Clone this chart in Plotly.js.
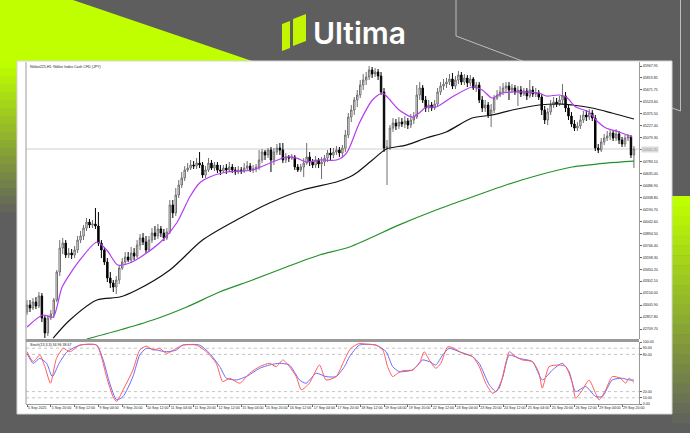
<!DOCTYPE html>
<html><head><meta charset="utf-8">
<script src="https://cdn.plot.ly/plotly-3.0.1.min.js"></script>
<style>html,body{margin:0;padding:0;background:#5e5e5e;overflow:hidden}#chart{width:690px;height:433px}</style>
</head><body><div id="chart"></div>
<script>
const chartTitle = "Nikkei225,H1: Nikkei Index Cash CFD (JPY)";
const stochTitle = "Stoch(13,3,3) 34.96 38.67";
const brandName = "Ultima";
const timeLabels = ["5 Sep 2025","5 Sep 20:00","8 Sep 12:00","9 Sep 04:00","9 Sep 20:00","10 Sep 12:00","11 Sep 04:00","11 Sep 20:00","12 Sep 12:00","15 Sep 04:00","15 Sep 20:00","16 Sep 12:00","17 Sep 04:00","17 Sep 20:00","18 Sep 12:00","19 Sep 04:00","19 Sep 20:00","22 Sep 12:00","23 Sep 04:00","23 Sep 20:00","24 Sep 12:00","25 Sep 04:00","25 Sep 20:00","26 Sep 12:00","29 Sep 04:00","29 Sep 20:00"];
const labelBars = [0,8,16,24,32,40,48,56,64,72,80,88,96,104,112,120,128,136,144,152,160,168,176,184,192,200];
const priceLabels = ["45967.95","45819.85","45671.75","45523.60","45375.50","45227.40","45079.30","44931.20","44783.10","44635.00","44486.90","44338.80","44190.70","44042.60","43894.50","43746.40","43598.30","43450.20","43302.10","43154.00","43005.90","42857.80","42709.70"];
const stochLabels = ["0.00","10.00","20.00","80.00","90.00","100.00"];
const stochLevels = [0,10,20,80,90,100];
const dottedLevels = [10,20,80,90];
const lastPriceText = "44940.35";

const openP = [42920,43007,42970,43044,42995,43119,42846,42660,42846,42896,
43069,43416,43713,43775,43627,43651,43627,43689,43812,43862,
43961,44035,43998,44011,43986,43775,43689,43540,43342,43280,
43230,43317,43465,43540,43602,43565,43651,43614,43750,43837,
43788,43689,43812,43899,43862,43949,43899,43837,43912,44246,
44147,44370,44494,44581,44680,44704,44742,44729,44766,44742,
44618,44680,44766,44704,44742,44680,44667,44704,44680,44717,
44680,44655,44680,44667,44704,44729,44680,44692,44717,44804,
44903,44866,44928,44804,44903,44952,44928,44804,44841,44828,
44841,44717,44680,44717,44766,44841,44779,44742,44804,44754,
44779,44828,44890,44866,44903,44928,44890,44952,45113,45336,
45423,45547,45609,45733,45795,45832,45919,45869,45894,45844,
45646,44952,44965,45200,45262,45225,45274,45250,45287,45237,
45299,45336,45609,45696,45547,45448,45485,45448,45497,45646,
45720,45745,45770,45807,45720,45795,45857,45770,45820,45758,
45807,45696,45733,45547,45448,45485,45361,45423,45572,45609,
45646,45696,45720,45671,45696,45646,45671,45621,45658,45597,
45671,45621,45634,45584,45423,45299,45398,45485,45522,45497,
45547,45597,45448,45349,45250,45200,45225,45299,45361,45336,
45386,45324,44952,44928,45027,45076,45101,45138,45076,45126,
45051,45002,45076,45089,44866];
const highP = [43069,43069,43094,43106,43168,43156,42883,42883,42945,43094,
43441,43812,43837,43812,43713,43701,43738,43862,43924,43998,
44085,44073,44060,44209,44159,43812,43726,43589,43416,43317,
43366,43503,43589,43664,43664,43726,43713,43812,43887,43899,
43862,43862,43961,43986,44011,43986,43949,43961,44308,44308,
44457,44556,44655,44729,44766,44804,44791,44828,44903,44779,
44729,44828,44804,44779,44779,44742,44742,44754,44779,44754,
44717,44729,44717,44766,44791,44766,44742,44754,44928,44940,
44928,44952,44965,44952,45002,45014,45014,44890,44866,44878,
44866,44754,44754,44828,45014,44903,44816,44853,44828,44841,
44866,44928,44952,44952,44977,44965,44989,45175,45386,45485,
45584,45671,45795,45869,45894,45968,45956,45943,45931,45894,
45696,45051,45237,45324,45312,45336,45324,45349,45324,45374,
45398,45733,45770,45733,45597,45547,45522,45547,45696,45770,
45807,45820,45869,45882,45844,45906,45894,45869,45857,45857,
45832,45770,45770,45597,45547,45522,45497,45609,45671,45720,
45758,45770,45770,45745,45733,45720,45720,45696,45696,45795,
45720,45696,45671,45621,45473,45448,45547,45584,45572,45597,
45745,45646,45497,45398,45299,45274,45361,45411,45423,45435,
45423,45361,45002,45076,45126,45163,45175,45175,45188,45163,
45089,45113,45126,45113,44977];
const lowP = [42883,42920,42945,42957,42970,42796,42598,42623,42821,42846,
43044,43366,43639,43589,43589,43577,43589,43651,43775,43812,
43924,43961,43961,43949,43738,43589,43503,43292,43218,43168,
43143,43267,43441,43503,43540,43527,43565,43589,43689,43750,
43651,43664,43775,43812,43825,43850,43800,43812,43887,44085,
44110,44333,44457,44543,44655,44680,44692,44692,44704,44581,
44581,44655,44680,44667,44643,44618,44643,44630,44655,44643,
44618,44630,44630,44643,44667,44655,44643,44655,44680,44766,
44804,44828,44655,44742,44866,44866,44766,44766,44779,44804,
44680,44655,44655,44593,44742,44729,44704,44704,44704,44568,
44729,44779,44804,44828,44866,44841,44828,44903,45076,45274,
45361,45460,45572,45671,45733,45795,45820,45832,45795,45609,
44903,44494,44928,45151,45175,45188,45212,45200,45188,45200,
45250,45312,45547,45510,45398,45398,45411,45423,45460,45609,
45671,45696,45733,45683,45683,45745,45733,45733,45708,45720,
45671,45646,45510,45398,45398,45324,45212,45386,45547,45584,
45609,45646,45547,45634,45609,45473,45584,45597,45547,45572,
45584,45584,45547,45361,45250,45237,45361,45448,45460,45473,
45497,45398,45299,45212,45163,45163,45188,45262,45287,45299,
45287,44915,44890,44903,44989,45039,45051,45039,45039,45002,
44965,44965,45039,44828,44704];
const closeP = [43007,42970,43044,42995,43119,42846,42660,42846,42896,43069,
43416,43713,43775,43627,43651,43627,43689,43812,43862,43961,
44035,43998,44011,43986,43775,43689,43540,43342,43280,43230,
43317,43465,43540,43602,43565,43651,43614,43750,43837,43788,
43689,43812,43899,43862,43949,43899,43837,43912,44246,44147,
44370,44494,44581,44680,44704,44742,44729,44766,44742,44618,
44680,44766,44704,44742,44680,44667,44704,44680,44717,44680,
44655,44680,44667,44704,44729,44680,44692,44717,44804,44903,
44866,44928,44804,44903,44952,44928,44804,44841,44828,44841,
44717,44680,44717,44766,44841,44779,44742,44804,44754,44779,
44828,44890,44866,44903,44928,44890,44952,45113,45336,45423,
45547,45609,45733,45795,45832,45919,45869,45894,45844,45646,
44952,44965,45200,45262,45225,45274,45250,45287,45237,45299,
45336,45609,45696,45547,45448,45485,45448,45497,45646,45720,
45745,45770,45807,45720,45795,45857,45770,45820,45758,45807,
45696,45733,45547,45448,45485,45361,45423,45572,45609,45646,
45696,45720,45671,45696,45646,45671,45621,45658,45597,45671,
45621,45634,45584,45423,45299,45398,45485,45522,45497,45547,
45597,45448,45349,45250,45200,45225,45299,45361,45336,45386,
45324,44952,44928,45027,45076,45101,45138,45076,45126,45051,
45002,45076,45089,44866,44940];

// moving averages (bar position, price)
const maFastBar = [0,5.3,8.8,11.8,17.8,23.5,26.8,30.5,34.5,40.2,45.6,50.3,54.7,58,61.4,67.1,75.8,82.5,87.2,90.6,93.9,98.3,104,107.4,111.7,116.1,119.4,121.1,125.1,129.5,131.8,134.2,137.5,142.9,149.6,153,156.3,159.7,163.1,167.8,172.1,174.5,178.8,181.2,184.5,188.9,191.2,194.6,199,203.4];
const maFastVal = [42734,42883,42858,43230,43565,43788,43689,43503,43527,43651,43812,44023,44345,44519,44593,44655,44680,44779,44841,44828,44779,44804,44804,44890,45262,45547,45634,45584,45423,45336,45386,45460,45460,45584,45708,45671,45572,45634,45646,45646,45634,45597,45609,45584,45460,45398,45299,45200,45151,45089];
const maMidBar = [8.8,14.4,23.5,31.2,36.9,48,59,70.4,81.5,92.6,104,108.4,110.7,116.1,120.8,127.5,134.2,140.9,149.6,156.3,163.1,172.1,179.8,183.2,189.9,196.6,204];
const maMidVal = [42598,42821,43069,43106,43193,43441,43812,44060,44271,44432,44531,44593,44643,44804,44940,44989,45076,45151,45324,45361,45423,45485,45497,45485,45448,45386,45312];
const maSlowBar = [20.1,31.2,42.3,53.7,64.7,75.8,87.2,98.3,108.4,125.1,137.5,149.6,161,172.1,183.2,194.6,204];
const maSlowVal = [42586,42697,42821,42983,43168,43317,43478,43627,43726,44000,44184,44345,44494,44618,44717,44766,44791];

// stochastic lines (bar position, value)
const stochMainBar = [0,2.1,4.3,6,7.9,9.9,12.2,14.4,17.8,23.4,25,26.7,28.9,30.1,32.3,35.6,37.9,40.1,42.4,44.6,46.9,50.2,52.4,56.9,60.3,63.6,65.8,68.1,71.5,74.8,78.2,81.5,83.8,86,88.2,90.5,92.2,94.9,98.3,100.5,103.9,106.7,108.4,109.5,111.7,114,117.3,119.6,121.2,122.9,124.6,126.3,129.6,131.9,133.5,135.2,137.4,139.1,141.4,143.6,146.4,149.8,152,154.2,156.5,158.7,160.9,162.1,164.3,166.5,169.9,172.1,173.2,175.5,178.8,181.1,183.3,184.4,186.7,188.9,191.1,192.3,194.5,196.7,199.5,201.2,202.3,204];
const stochMainVal = [84.3,68.3,79,60.3,33.5,73.6,89.7,84.3,95,95,76.3,44.2,12.1,4,22.8,54.9,87,93.4,87,89.7,81.6,89.7,95,95,84.3,65.6,36.2,41.5,33.5,49.6,60.3,65.6,60.3,71,60.3,44.2,22.8,33.5,62.9,38.8,44.2,71,87,92.3,97.7,96.6,95,87,60.3,44.2,49.6,53.8,54.9,65.6,84.3,71,57.6,65.6,92.3,89.7,81.6,76.3,60.3,33.5,17.4,25.5,65.6,84.3,76.3,71,68.3,49.6,25.5,60.3,62.9,60.3,33.5,9.4,22.8,38.8,17.4,6.7,22.8,44.2,41.5,33.5,41.5,35];
const stochSignalBar = [0,2.1,4.3,6.6,8.5,10.8,13.5,17.8,23.4,25.6,27.8,30.1,32.3,35.6,37.9,40.1,43.5,46.9,50.2,52.4,58,61.4,64.8,67,70.4,73.7,78.2,81.5,84.8,88.2,91.6,93.8,97.2,100.5,103.9,106.7,108.4,111.7,117.3,120.7,122.9,125.1,129.6,133,135.2,137.4,139.7,141.9,145.3,149.8,152,155.4,157.6,159.8,162.1,165.4,169.9,173.2,176.6,179.9,182.2,184.4,187.8,191.1,193.4,196.7,200.1,202.3,204];
const stochSignalVal = [81.6,65.6,73.6,65.6,44.2,65.6,84.3,95,95,71,33.5,6.7,12.1,44.2,79,89.7,87,84.3,87,95,95,81.6,60.3,41.5,38.8,44.2,57.6,62.9,65.6,62.9,38.8,33.5,49.6,44.2,44.2,60.3,76.3,95,95,84.3,60.3,52.2,54.9,71,68.3,62.9,79,89.7,84.3,76.3,65.6,30.8,20.1,41.5,79,73.6,68.3,38.8,54.9,65.6,52.2,20.1,28.2,12.1,12.1,38.8,41.5,38.8,38.7];

// ---------- page geometry helpers (page pixels -> paper fractions) ----------
const W = 690, H = 433;
const px = v => v / W;
const py = v => 1 - v / H;
const pathOf = pts => 'M' + pts.map(p => px(p[0]).toFixed(5) + ',' + py(p[1]).toFixed(5)).join(' L') + ' Z';

const barPos = openP.map((_, i) => i);
const lastClose = closeP[closeP.length - 1];

const plotL = 26, plotR = 639, mainTop = 62, mainBot = 339, stTop = 342, stBot = 404;

const traces = [
  {type:'candlestick', x:barPos, open:openP, high:highP, low:lowP, close:closeP,
   xaxis:'x', yaxis:'y', whiskerwidth:0, hoverinfo:'skip',
   increasing:{line:{color:'#6e6e6e', width:1}, fillcolor:'#ffffff'},
   decreasing:{line:{color:'#000000', width:1}, fillcolor:'#000000'}},
  {type:'scatter', mode:'lines', x:maSlowBar, y:maSlowVal, xaxis:'x', yaxis:'y',
   line:{color:'#23912a', width:1.2, shape:'spline', smoothing:0.8}, hoverinfo:'skip'},
  {type:'scatter', mode:'lines', x:maMidBar, y:maMidVal, xaxis:'x', yaxis:'y',
   line:{color:'#111111', width:1.2, shape:'spline', smoothing:0.8}, hoverinfo:'skip'},
  {type:'scatter', mode:'lines', x:maFastBar, y:maFastVal, xaxis:'x', yaxis:'y',
   line:{color:'#b63cf0', width:1.2, shape:'spline', smoothing:0.7}, hoverinfo:'skip'},
  {type:'scatter', mode:'lines', x:stochSignalBar, y:stochSignalVal, xaxis:'x2', yaxis:'y2',
   line:{color:'#6a6aff', width:1, shape:'spline', smoothing:0.6}, hoverinfo:'skip'},
  {type:'scatter', mode:'lines', x:stochMainBar, y:stochMainVal, xaxis:'x2', yaxis:'y2',
   line:{color:'#ff5c5c', width:1, shape:'spline', smoothing:0.6}, hoverinfo:'skip'}
];

const tinyFont = {family:'Liberation Sans, Arial, sans-serif', size:3.6, color:'#222'};

// lime gradients (decoration)
function gradStrip(xa, xb, top, bot, steps) {
  const out = [];
  for (let k = 0; k < steps; k++) {
    const t = k / (steps - 1);
    const r = Math.round(190 + (94 - 190) * t), g = Math.round(255 + (94 - 255) * t), b = Math.round(94 * t);
    const y0 = top + (bot - top) * k / steps, y1 = top + (bot - top) * (k + 1) / steps + 0.5;
    out.push({type:'rect', xref:'paper', yref:'paper', x0:px(xa), x1:px(xb), y0:py(y1), y1:py(y0),
      fillcolor:`rgb(${r},${g},${b})`, line:{width:0}, layer:'below'});
  }
  return out;
}

const shapes = [
  {type:'path', xref:'paper', yref:'paper', path:pathOf([[0,0],[73,0],[255,62],[0,62]]),
   fillcolor:'#bfff00', line:{width:0}, layer:'below'},
  ...gradStrip(0, 18, 60, 220, 20),
  ...gradStrip(672, 690, 196, 433, 24),
  {type:'path', xref:'paper', yref:'paper', path:'M'+px(456)+','+py(0)+' L'+px(456)+','+py(36)+' L'+px(525)+','+py(62),
   fillcolor:'rgba(0,0,0,0)', line:{color:'#bdbdbd', width:1}, layer:'below'},
  {type:'path', xref:'paper', yref:'paper', path:'M'+px(680.5)+','+py(0)+' L'+px(680.5)+','+py(111)+' L'+px(672)+','+py(108),
   fillcolor:'rgba(0,0,0,0)', line:{color:'#bdbdbd', width:1}, layer:'below'},
  {type:'path', xref:'paper', yref:'paper', path:pathOf([[282,24],[290,21],[290,48],[282,51]]),
   fillcolor:'#c3f400', line:{width:0}, layer:'below'},
  {type:'path', xref:'paper', yref:'paper', path:pathOf([[293,19],[306,14],[306,41],[293,46]]),
   fillcolor:'#c3f400', line:{width:0}, layer:'below'},
  {type:'rect', xref:'paper', yref:'paper', x0:px(17), x1:px(672), y0:py(414), y1:py(61),
   fillcolor:'#ffffff', line:{color:'#d6d6d6', width:1}, layer:'below'},
  {type:'line', xref:'paper', yref:'paper', x0:px(plotL), x1:px(plotL), y0:py(stBot), y1:py(mainTop),
   line:{color:'#9a9a9a', width:1}},
  {type:'rect', xref:'paper', yref:'paper', x0:px(plotL), x1:px(plotR), y0:py(342), y1:py(339),
   fillcolor:'#9a9a9a', line:{width:0}},
  {type:'line', xref:'paper', yref:'y', x0:px(plotL), x1:px(plotR), y0:lastClose, y1:lastClose,
   line:{color:'#cfcfcf', width:1}, layer:'below'},
  ...dottedLevels.map(v => ({type:'line', xref:'paper', yref:'y2', x0:px(plotL), x1:px(plotR), y0:v, y1:v,
   line:{color:'#b5b5b5', width:0.8, dash:'dot'}, layer:'below'}))
];

const annotations = [
  {xref:'paper', yref:'paper', x:px(311), y:py(33), xanchor:'left', yanchor:'middle', showarrow:false,
   text:brandName, font:{family:'Inter, Roboto, sans-serif', size:30, color:'#ffffff', weight:600}},
  {xref:'paper', yref:'paper', x:px(28), y:py(66.5), xanchor:'left', yanchor:'middle', showarrow:false,
   text:chartTitle, font:tinyFont},
  {xref:'paper', yref:'paper', x:px(28), y:py(345), xanchor:'left', yanchor:'middle', showarrow:false,
   text:stochTitle, font:tinyFont},
  {xref:'paper', yref:'y', x:px(641), y:lastClose, xanchor:'left', yanchor:'middle', showarrow:false,
   text:lastPriceText, font:Object.assign({}, tinyFont, {color:'#9a9a9a'}), bgcolor:'#dcdcdc', borderpad:0.6}
];

const layout = {
  width:W, height:H, margin:{l:0, r:0, t:0, b:0, pad:0},
  paper_bgcolor:'#5e5e5e', plot_bgcolor:'rgba(0,0,0,0)', showlegend:false,
  dragmode:false, hovermode:false,
  xaxis:{domain:[px(plotL), px(plotR)], anchor:'y', range:[-0.34, 205.7], showticklabels:false,
    showgrid:false, zeroline:false, showline:false, ticks:'', rangeslider:{visible:false}, fixedrange:true},
  xaxis2:{domain:[px(plotL), px(plotR)], anchor:'y2', matches:'x', range:[-0.34, 205.7],
    tickmode:'array', tickvals:labelBars, ticktext:timeLabels, ticks:'outside', ticklen:2, tickwidth:1, tickcolor:'#666',
    tickangle:0, ticklabelposition:'outside right', tickfont:tinyFont, showgrid:false, zeroline:false,
    showline:true, linecolor:'#9a9a9a', linewidth:1, fixedrange:true},
  yaxis:{domain:[py(mainBot), py(mainTop)], anchor:'x', side:'right', range:[42586, 46018],
    tickmode:'array', tickvals:priceLabels.map(Number), ticktext:priceLabels, ticks:'outside', ticklen:2,
    tickcolor:'#666', tickfont:tinyFont, showgrid:false, zeroline:false, showline:true,
    linecolor:'#9a9a9a', linewidth:1, fixedrange:true},
  yaxis2:{domain:[py(stBot), py(stTop)], anchor:'x2', side:'right', range:[0, 100],
    tickmode:'array', tickvals:stochLevels, ticktext:stochLabels, ticks:'outside', ticklen:2,
    tickcolor:'#666', tickfont:tinyFont, showgrid:false, zeroline:false, showline:true,
    linecolor:'#9a9a9a', linewidth:1, fixedrange:true},
  shapes:shapes, annotations:annotations
};

Plotly.newPlot('chart', traces, layout, {displayModeBar:false, staticPlot:true});
</script>
</body></html>
